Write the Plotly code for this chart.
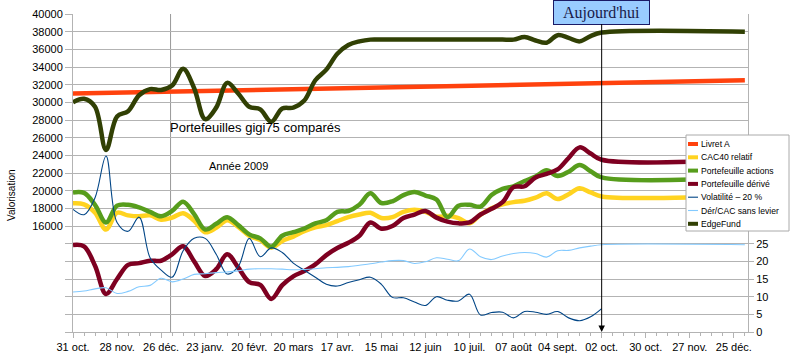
import pandas as pd
import plotly.graph_objects as go

# ---------------- data ----------------
WEEKS = list(pd.date_range("2008-10-31", "2009-10-02", freq="7D").strftime("%Y-%m-%d"))
END_DATE = "2010-01-01"
WEEKS_EXT = WEEKS + [END_DATE]

LIVRET_DATES = ["2008-10-31", "2010-01-01"]
livret_a = [31000, 32500]

cac40 = [18570, 18450, 17500, 15600, 17500, 17200, 17100, 17200, 16700, 16950,
         17450, 16600, 15300, 15800, 16650, 15900, 14900, 14400, 13550, 14300,
         14800, 15400, 15850, 16100, 16550, 17000, 17300, 17500, 16900, 17000,
         17600, 17850, 17600, 17050, 17150, 16900, 16300, 17300, 18000, 18450,
         18700, 18850, 19200, 19700, 19050, 19600, 20270, 19800, 19350, 19400]

actions = [19800, 19750, 18400, 16400, 18300, 18400, 18100, 17600, 17100, 17700,
           18750, 17350, 15600, 16250, 17000, 16100, 15050, 14600, 13650, 14900,
           15300, 15700, 16300, 16650, 17600, 17700, 18400, 19700, 18600, 18800,
           19500, 19850, 19450, 19000, 17000, 18300, 18400, 18200, 19500, 20200,
           20500, 21100, 21600, 22300, 21650, 22150, 22900, 22200, 21500, 21450]

derive = [13850, 13700, 11500, 8300, 10000, 11600, 11800, 12070, 12070, 12800,
          13700, 12000, 10340, 11100, 12800, 11300, 9650, 9330, 7750, 9300,
          10300, 10900, 11650, 12700, 13500, 14100, 14900, 16400, 15700, 16000,
          16900, 17300, 17700, 16950, 16500, 16300, 16400, 17300, 17950, 18700,
          20400, 20500, 21500, 21900, 22400, 23700, 24900, 24200, 23500, 23500]

volatilite = [34.7, 33.2, 38, 49.8, 31, 28.5, 32.5, 21, 17.5, 15.5,
              23, 26.5, 26.5, 22, 16.4, 18.5, 26.5, 21.3, 23.8, 22.5,
              19.5, 17.5, 15.5, 13.5, 13, 14, 14.8, 15.5, 13.5, 9.8,
              9.7, 8.5, 7.5, 10, 9, 8.8, 10.7, 4.8, 5.5, 5.6,
              4.0, 5.8, 5.6, 5.0, 5.8, 4.0, 3.2, 4.3, 6.6]

der_cac = [11.3, 11.6, 12.2, 12.5, 10.9, 11.5, 12.8, 13.2, 15.2, 14.2,
           15.0, 16.3, 16.5, 16.8, 17.0, 17.3, 17.8, 17.9, 17.9, 17.8,
           17.6, 17.7, 17.9, 18.2, 18.3, 18.5, 18.9, 19.3, 19.8, 20.2,
           20.2, 19.4, 19.9, 21.0, 20.6, 20.2, 23.5, 21.3, 20.5, 21.5,
           22.2, 22.5, 22.2, 21.2, 23.0, 23.1, 23.8, 24.3, 24.7, 24.7]

edgefund = [30000, 30400, 29500, 24600, 28400, 29000, 30800, 31500, 31400, 31900,
            33800, 31600, 28100, 29400, 32200, 31000, 29500, 29200, 27800, 29300,
            29400, 30200, 32500, 33700, 35500, 36500, 36900, 37100, 37100, 37100,
            37100, 37100, 37100, 37100, 37100, 37100, 37100, 37100, 37100, 37100,
            37100, 37400, 37000, 36750, 37600, 37300, 36900, 37500, 37900, 38000]

TICK_DATES = ["2008-10-31", "2008-11-28", "2008-12-26", "2009-01-23", "2009-02-20",
              "2009-03-20", "2009-04-17", "2009-05-15", "2009-06-12", "2009-07-10",
              "2009-08-07", "2009-09-04", "2009-10-02", "2009-10-30", "2009-11-27",
              "2009-12-25"]
TICK_TEXT = ["31 oct.", "28 nov.", "26 déc.", "23 janv.", "20 févr.", "20 mars",
             "17 avr.", "15 mai", "12 juin", "10 juil.", "07 août", "04 sept.",
             "02 oct.", "30 oct.", "27 nov.", "25 déc."]

LEFT_TICKS = list(range(4000, 40001, 2000))
LEFT_LABEL_MIN = 16000
RIGHT_TICKS = [0, 5, 10, 15, 20, 25]
TODAY = "2009-10-02"
YEAR_GRID = "2009-01-01"

# ---------------- figure ----------------
W, H = 790, 357
L, R, T, B = 73, 42, 14, 25
PW, PH = W - L - R, H - T - B


def px(x):
    return (x - L) / PW


def py(y):
    return (H - B - y) / PH


series = [
    ("Livret A", LIVRET_DATES, livret_a, "#ff420e", 4.5, "y", "linear"),
    ("CAC40 relatif", WEEKS_EXT, cac40, "#ffd320", 4.5, "y", "spline"),
    ("Portefeuille actions", WEEKS_EXT, actions, "#579d1c", 4.5, "y", "spline"),
    ("Portefeuille dérivé", WEEKS_EXT, derive, "#7e0021", 4.5, "y", "spline"),
    ("Volatilité – 20 %", WEEKS, volatilite, "#004586", 1.1, "y2", "spline"),
    ("Dér/CAC sans levier", WEEKS_EXT, der_cac, "#83caff", 1.1, "y2", "spline"),
    ("EdgeFund", WEEKS_EXT, edgefund, "#314004", 4.5, "y", "spline"),
]

fig = go.Figure()
for name, xs, ys, color, width, yax, shape in series:
    fig.add_trace(go.Scatter(
        x=xs, y=ys, name=name, mode="lines", yaxis=yax,
        line=dict(color=color, width=width, shape=shape, smoothing=1.0),
        showlegend=False, hoverinfo="skip",
    ))

grid = "#b3b3b3"
fig.update_layout(
    width=W, height=H,
    margin=dict(l=L, r=R, t=T, b=B, pad=0, autoexpand=False),
    paper_bgcolor="white", plot_bgcolor="white",
    font=dict(family="Liberation Sans, Arial, sans-serif", size=11, color="#000000"),
    xaxis=dict(
        type="date", range=["2008-10-31", "2010-01-03"], automargin=False,
        tickmode="array", tickvals=TICK_DATES, ticktext=TICK_TEXT,
        ticks="outside", ticklen=5, tickcolor=grid, showgrid=False,
        showline=True, linecolor=grid, linewidth=1, zeroline=False,
        minor=dict(dtick=7 * 86400000, tick0="2008-10-31", ticks="outside",
                   ticklen=3, tickcolor=grid, showgrid=False),
        tickfont=dict(size=11),
    ),
    yaxis=dict(
        range=[4000, 40000], tickmode="array", tickvals=LEFT_TICKS, automargin=False,
        ticktext=[str(v) if v >= LEFT_LABEL_MIN else "" for v in LEFT_TICKS],
        ticks="outside", ticklen=7, tickcolor=grid, showgrid=True,
        gridcolor=grid, gridwidth=1, showline=True, linecolor=grid,
        zeroline=False, tickfont=dict(size=11),
    ),
    yaxis2=dict(
        range=[0, 90], overlaying="y", side="right", tickmode="array", automargin=False,
        tickvals=RIGHT_TICKS, ticks="outside", ticklen=5, tickcolor=grid,
        showgrid=False, showline=True, linecolor=grid, zeroline=False,
        tickfont=dict(size=11),
    ),
    showlegend=False,
)

# yearly vertical gridline
fig.add_shape(type="line", xref="x", yref="paper", x0=YEAR_GRID, x1=YEAR_GRID,
              y0=0, y1=1, line=dict(color="#999999", width=1), layer="below")

# ---- manual legend (compact, like the original) ----
LEG_X0, LEG_X1, LEG_Y0, LEG_Y1 = 686, 789, 135, 231
fig.add_shape(type="rect", xref="paper", yref="paper",
              x0=px(LEG_X0), x1=px(LEG_X1), y0=py(LEG_Y1), y1=py(LEG_Y0),
              line=dict(color="#aaaaaa", width=1), fillcolor="white", layer="above")
for i, (name, _, _, color, width, _, _) in enumerate(series):
    yc = 144 + i * 13.3
    fig.add_shape(type="line", xref="paper", yref="paper",
                  x0=px(688), x1=px(698), y0=py(yc), y1=py(yc),
                  line=dict(color=color, width=min(width, 4)), layer="above")
    fig.add_annotation(text=name, xref="paper", yref="paper", x=px(699), y=py(yc),
                       xanchor="left", yanchor="middle", showarrow=False,
                       font=dict(size=8.6, color="#000000"))

# titles
fig.add_annotation(text="Portefeuilles gigi75 comparés", xref="paper", yref="paper",
                   x=px(168), y=py(127), xanchor="left", yanchor="middle",
                   showarrow=False, font=dict(size=13))
fig.add_annotation(text="Année 2009", xref="paper", yref="paper",
                   x=px(207), y=py(166), xanchor="left", yanchor="middle",
                   showarrow=False, font=dict(size=11))
fig.add_annotation(text="Valorisation", xref="paper", yref="paper",
                   x=px(11), y=py(195), xanchor="center", yanchor="middle",
                   textangle=-90, showarrow=False, font=dict(size=10))

# "Aujourd'hui" marker
fig.add_annotation(text="Aujourd'hui", xref="x", yref="paper", x=TODAY, y=0,
                   ax=0, ay=-320, showarrow=True, arrowhead=2, arrowsize=1.3,
                   arrowwidth=1, arrowcolor="#000000", standoff=0,
                   bgcolor="#99ccff", bordercolor="#1a1a66", borderwidth=1,
                   borderpad=1, width=93, height=21, valign="middle",
                   font=dict(family="Liberation Serif, Times New Roman, serif",
                             size=16, color="#1a1a4a"))

fig.write_html("out.html",
               config={"displayModeBar": False, "staticPlot": True},
               post_script="document.body.style.margin='0';"
                           "document.body.style.overflow='hidden';")
